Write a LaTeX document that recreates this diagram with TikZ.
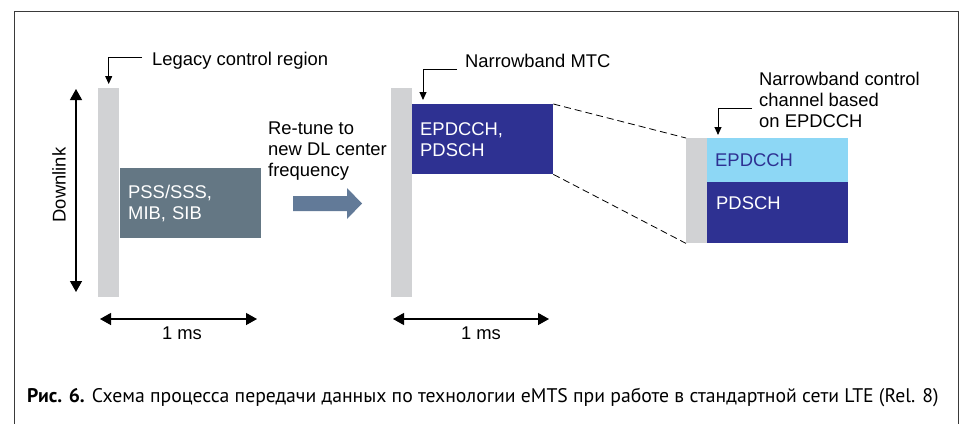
\documentclass[tikz,border=0pt]{standalone}
\usepackage{fontspec}
\setmainfont{Liberation Sans}
\newfontfamily\capfont{PT Sans}
\usetikzlibrary{arrows.meta,positioning}
\definecolor{barGray}{HTML}{D1D2D4}
\definecolor{sibGray}{HTML}{647784}
\definecolor{mtcBlue}{HTML}{2E3192}
\definecolor{ctrlBlue}{HTML}{8DD7F5}
\definecolor{tuneBlue}{HTML}{627A98}
\definecolor{frameGray}{HTML}{3A3A3A}
\begin{document}
\begin{tikzpicture}[x=1pt,y=-1pt,
	txt/.style={font=\fontsize{18.4}{21}\selectfont,inner sep=0pt,align=left},
	bar/.style={fill=barGray,minimum width=21pt,anchor=north west,inner sep=0pt},
	blk/.style={txt,anchor=north west,text width=125pt,inner xsep=8pt,minimum width=141pt},
	span/.style={line width=1.3pt,{Triangle[width=12pt,length=11pt]}-{Triangle[width=12pt,length=11pt]}},
	hook/.style={line width=1pt,-{Triangle[width=7pt,length=8pt]}}]
	\useasboundingbox (0,0) rectangle (963,423);
	\draw[frameGray,line width=1pt] (14,440)--(14,11)--(958,11)--(958,440);
	\node[bar,minimum height=209pt] (bar1) at (98,88) {};
	\node[bar,minimum height=209pt] (bar2) at (391,88) {};
	\node[bar,minimum height=105pt] (bar3) at (686,138) {};
	\node[blk,fill=sibGray,text=white,minimum height=70pt] (sib) at (120,168) {PSS/SSS,\\MIB, SIB};
	\node[blk,fill=mtcBlue,text=white,minimum height=70pt] (mtc) at (412,104) {EPDCCH,\\PDSCH};
	\node[blk,fill=ctrlBlue,text=mtcBlue,minimum height=44pt] (ctrl) at (707,138) {EPDCCH};
	\node[blk,fill=mtcBlue,minimum height=61pt] (pdsch) at (707,182) {};
	\node[txt,text=white,anchor=west] (pdschTxt) at (716,203) {PDSCH};
	\coordinate (dlTop) at (76,89);
	\coordinate (dlBot) at (76,292);
	\draw[span] (dlTop)--(dlBot);
	\node[txt,rotate=90] (dl) at (59,185) {Downlink};
	\node[txt,anchor=west] (leg) at (152,60.5) {Legacy control region};
	\coordinate (legEnd) at (142,57);
	\draw[hook] (legEnd) -| ([yshift=4pt]bar1.north);
	\node[txt,anchor=west] (nbm) at (465,60.5) {Narrowband MTC};
	\coordinate (nbmEnd) at (457,69);
	\draw[hook] (nbmEnd) -| ([shift={(11pt,4pt)}]mtc.north west);
	\node[txt,anchor=north west] (nbc) at (759,72) {Narrowband control\\channel based\\on EPDCCH};
	\coordinate (nbcEnd) at (752,108);
	\draw[hook] (nbcEnd) -| ([shift={(11pt,3pt)}]ctrl.north west);
	\node[txt,anchor=north west] (tune) at (268,122) {Re-tune to\\new DL center\\frequency};
	\fill[tuneBlue] (293,196)--(347,196)--(347,188)--(362,203.5)--(347,219)--(347,211)--(293,211)--cycle;
	\draw[dashed,dash pattern=on 7pt off 4pt,line width=0.8pt] (mtc.north east)--(bar3.north west) (mtc.south east)--(bar3.south west);
	\coordinate (msL1) at (100,319);
	\coordinate (msR1) at (257,319);
	\coordinate (msL2) at (393,319);
	\coordinate (msR2) at (549,319);
	\draw[span] (msL1)--(msR1);
	\draw[span] (msL2)--(msR2);
	\node[txt] (ms1) at (182,333) {1 ms};
	\node[txt] (ms2) at (481,333) {1 ms};
	\node[anchor=base west,inner sep=0pt,font=\capfont\fontsize{19.7}{22}\selectfont] (cap) at (27,402) {\textbf{Рис. 6.} Схема процесса передачи данных по технологии eMTS при работе в стандартной сети LTE (Rel. 8)};
\end{tikzpicture}
\end{document}
